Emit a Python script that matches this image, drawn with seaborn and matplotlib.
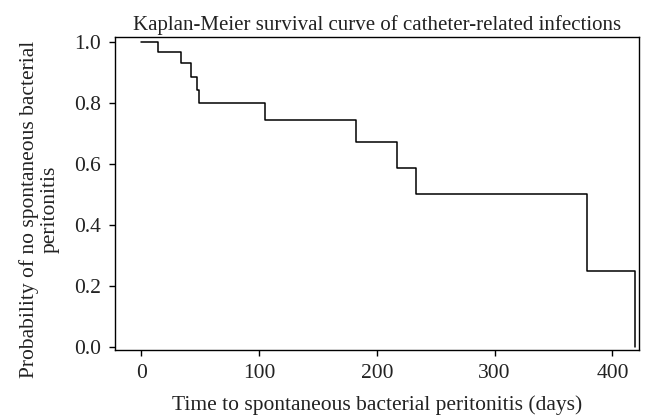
import numpy as np
import pandas as pd
import matplotlib
matplotlib.use('Agg')
import matplotlib.pyplot as plt
import seaborn as sns

# step times (days) and survival probability after each step
times = [0, 14.7, 34, 42.2, 47.3, 49, 105.3, 182, 217, 233, 378.6, 418.8]
survival = [1.0, 0.967, 0.931, 0.887, 0.843, 0.80, 0.745, 0.672, 0.588, 0.502, 0.25, 0.0]
x_ticks = [0, 100, 200, 300, 400]
y_ticks = [0.0, 0.2, 0.4, 0.6, 0.8, 1.0]

df = pd.DataFrame({'time': times, 'surv': survival})

sns.set_style('ticks')
plt.rcParams['font.family'] = ['Liberation Serif', 'DejaVu Serif']

fig = plt.figure(figsize=(6.45, 4.15), dpi=100)
ax = fig.add_axes([0.178, 0.1566, 0.813, 0.755])

sns.lineplot(data=df, x='time', y='surv', drawstyle='steps-post',
             estimator=None, color='black', linewidth=1.1, ax=ax)

ax.set_xlim(-22.3, 422.7)
ax.set_ylim(-0.011, 1.018)
ax.set_xticks(x_ticks)
ax.set_yticks(y_ticks)
ax.set_xticklabels([str(t) for t in x_ticks])
ax.set_yticklabels([f'{t:.1f}' for t in y_ticks])
ax.tick_params(axis='both', direction='out', length=4, width=1, labelsize=15.5,
               color='black', labelcolor='#222222', pad=6)
for s in ax.spines.values():
    s.set_color('black')
    s.set_linewidth(1)
    s.set_visible(True)

ax.set_title('Kaplan-Meier survival curve of catheter-related infections',
             fontsize=15, color='#222222', pad=5)
ax.set_xlabel('Time to spontaneous bacterial peritonitis (days)', fontsize=15.5,
              color='#222222', labelpad=9)
ax.set_ylabel('Probability of no spontaneous bacterial\nperitonitis', fontsize=15.5,
              color='#222222', linespacing=1.12)
ax.yaxis.set_label_coords(-0.106, 0.45)

fig.savefig('out.png', dpi=100)
